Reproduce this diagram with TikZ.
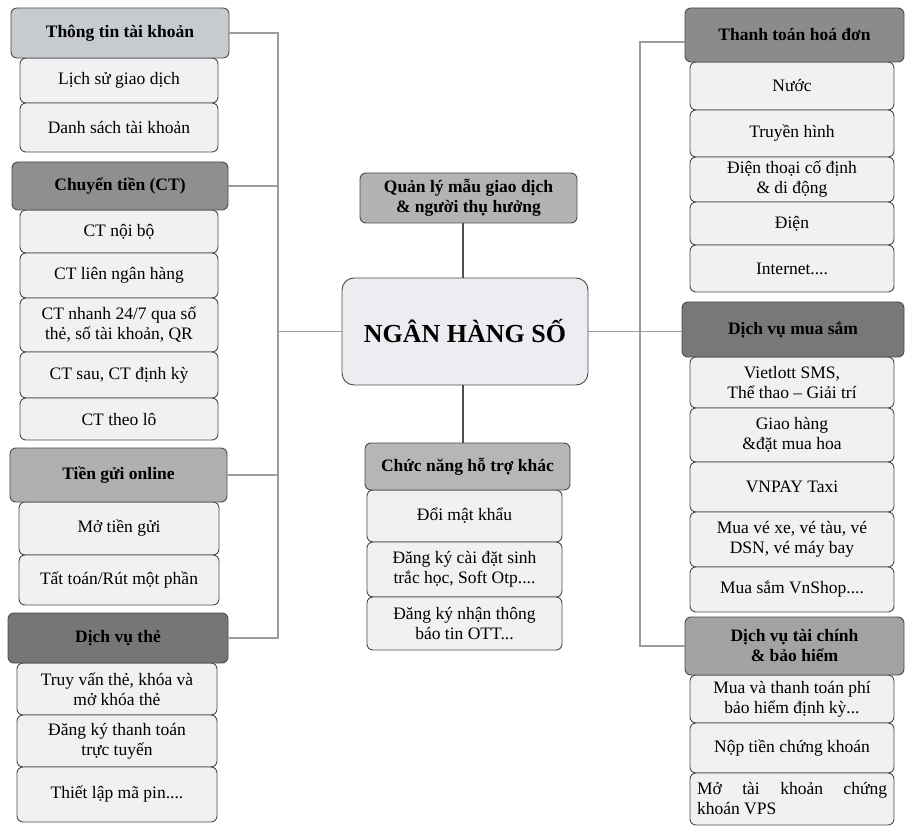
\documentclass[tikz,border=0pt]{standalone}
\usepackage{fontspec}
\setmainfont{Liberation Serif}
\definecolor{bordercol}{HTML}{4A4A4A}
\definecolor{childfill}{HTML}{F1F1F4}
\definecolor{centerfill}{HTML}{ECEDF1}
\definecolor{hA}{HTML}{C7CBD0}
\definecolor{hB}{HTML}{8F8F8F}
\definecolor{hC}{HTML}{B0B0B0}
\definecolor{hD}{HTML}{767676}
\definecolor{hE}{HTML}{B3B3B3}
\definecolor{hF}{HTML}{B6B6B6}
\definecolor{hG}{HTML}{8B8B8B}
\definecolor{hH}{HTML}{787878}
\definecolor{hI}{HTML}{A3A3A3}
\definecolor{buscol}{HTML}{9C9C9C}
\definecolor{stemcol}{HTML}{505050}
\newcommand\mybox[7]{\node[#1, minimum width={#4-#2}, minimum height={#5-#3}] (#6) at ({(#2+#4)/2},{(#3+#5)/2}) {#7};}
\tikzset{
  basebox/.style={draw=bordercol, line width=0.9pt, rounded corners=6pt, inner sep=1pt, outer sep=0pt, align=center, text=black, font=\fontsize{17.5}{20}\selectfont},
  childbox/.style={basebox, fill=childfill},
  hdrbox/.style={basebox, font=\bfseries\fontsize{17.5}{20}\selectfont},
  bus/.style={draw=buscol, line width=1.6pt},
  stem/.style={draw=stemcol, line width=1.3pt}
}
\begin{document}
\begin{tikzpicture}[x=1pt,y=-1pt]
\useasboundingbox (0,0) rectangle (906,829);
% ---------- left column ----------
\mybox{childbox}{20}{58}{218}{103}{l11}{Lịch sử giao dịch}
\mybox{childbox}{20}{103}{218}{152}{l12}{Danh sách tài khoản}
\mybox{hdrbox, fill=hA}{11}{8}{229}{58}{lh1}{Thông tin tài khoản}

\mybox{childbox}{20}{210}{218}{253}{l21}{CT nội bộ}
\mybox{childbox}{20}{253}{218}{298}{l22}{CT liên ngân hàng}
\mybox{childbox}{20}{298}{218}{352}{l23}{CT nhanh 24/7 qua số\\thẻ, số tài khoản, QR}
\mybox{childbox}{20}{352}{218}{398}{l24}{CT sau, CT định kỳ}
\mybox{childbox}{20}{398}{218}{440}{l25}{CT theo lô}
\mybox{hdrbox, fill=hB}{12}{162}{228}{210}{lh2}{Chuyển tiền (CT)}

\mybox{childbox}{19}{502}{219}{555}{l31}{Mở tiền gửi}
\mybox{childbox}{19}{555}{219}{605}{l32}{Tất toán/Rút một phần}
\mybox{hdrbox, fill=hC}{10}{448}{227}{502}{lh3}{Tiền gửi online}

\mybox{childbox}{17}{663}{217}{715}{l41}{Truy vấn thẻ, khóa và\\mở khóa thẻ}
\mybox{childbox}{17}{715}{217}{767}{l42}{Đăng ký thanh toán\\trực tuyến}
\mybox{childbox}{17}{767}{217}{822}{l43}{Thiết lập mã pin....}
\mybox{hdrbox, fill=hD}{8}{613}{228}{663}{lh4}{Dịch vụ thẻ}

% ---------- centre ----------
\mybox{hdrbox, fill=hE}{360}{173}{577}{223}{qh}{Quản lý mẫu giao dịch\\\& người thụ hưởng}
\mybox{basebox, fill=centerfill, rounded corners=12pt, font=\bfseries\fontsize{26}{30}\selectfont}{342}{278}{588}{385}{root}{NGÂN HÀNG SỐ}
\mybox{childbox}{367}{490}{562}{542}{c1}{Đổi mật khẩu}
\mybox{childbox}{367}{542}{562}{597}{c2}{Đăng ký cài đặt sinh\\trắc học, Soft Otp....}
\mybox{childbox}{367}{597}{562}{650}{c3}{Đăng ký nhận thông\\báo tin OTT...}
\mybox{hdrbox, fill=hF}{365}{443}{570}{490}{ch}{Chức năng hỗ trợ khác}

% ---------- right column ----------
\mybox{childbox}{690}{62}{894}{110}{r11}{Nước}
\mybox{childbox}{690}{110}{894}{157}{r12}{Truyền hình}
\mybox{childbox}{690}{157}{894}{202}{r13}{Điện thoại cố định\\\& di động}
\mybox{childbox}{690}{202}{894}{245}{r14}{Điện}
\mybox{childbox}{690}{245}{894}{292}{r15}{Internet....}
\mybox{hdrbox, fill=hG}{685}{8}{904}{62}{rh1}{Thanh toán hoá đơn}

\mybox{childbox}{690}{357}{894}{408}{r21}{Vietlott SMS,\\Thể thao -- Giải trí}
\mybox{childbox}{690}{408}{894}{462}{r22}{Giao hàng\\\&đặt mua hoa}
\mybox{childbox}{690}{462}{894}{512}{r23}{VNPAY Taxi}
\mybox{childbox}{690}{512}{894}{567}{r24}{Mua vé xe, vé tàu, vé\\DSN, vé máy bay}
\mybox{childbox}{690}{567}{894}{612}{r25}{Mua sắm VnShop....}
\mybox{hdrbox, fill=hH}{682}{302}{904}{357}{rh2}{Dịch vụ mua sắm}

\mybox{childbox}{690}{675}{894}{723}{r31}{Mua và thanh toán phí\\bảo hiểm định kỳ...}
\mybox{childbox}{690}{723}{894}{773}{r32}{Nộp tiền chứng khoán}
\mybox{childbox, align=left}{690}{773}{894}{825}{r33}{\makebox[190pt][s]{Mở\hfill tài\hfill khoản\hfill chứng}\\khoán VPS}
\mybox{hdrbox, fill=hI}{685}{617}{904}{675}{rh3}{Dịch vụ tài chính\\\& bảo hiểm}

% ---------- connectors ----------
\coordinate (lbus) at (278,0);
\coordinate (rbus) at (640,0);
\draw[bus] (lh1.east) -- (lh1.east -| lbus) -- (lh4.east -| lbus) -- (lh4.east);
\draw[bus] (lh2.east) -- (lh2.east -| lbus);
\draw[bus] (lh3.east) -- (lh3.east -| lbus);
\draw[bus] (root.west) -- (root.west -| lbus);
\draw[bus] ([yshift=-7pt]rh1.west) -- ([yshift=-7pt]rh1.west -| rbus) -- (rh3.west -| rbus) -- (rh3.west);
\draw[bus] (root.east) -- (root.east -| rh2.west);
\draw[stem] ([xshift=-2pt]root.north) -- ([xshift=-2pt]root.north |- qh.south);
\draw[stem] ([xshift=-2pt]root.south) -- ([xshift=-2pt]root.south |- ch.north);
\end{tikzpicture}
\end{document}
